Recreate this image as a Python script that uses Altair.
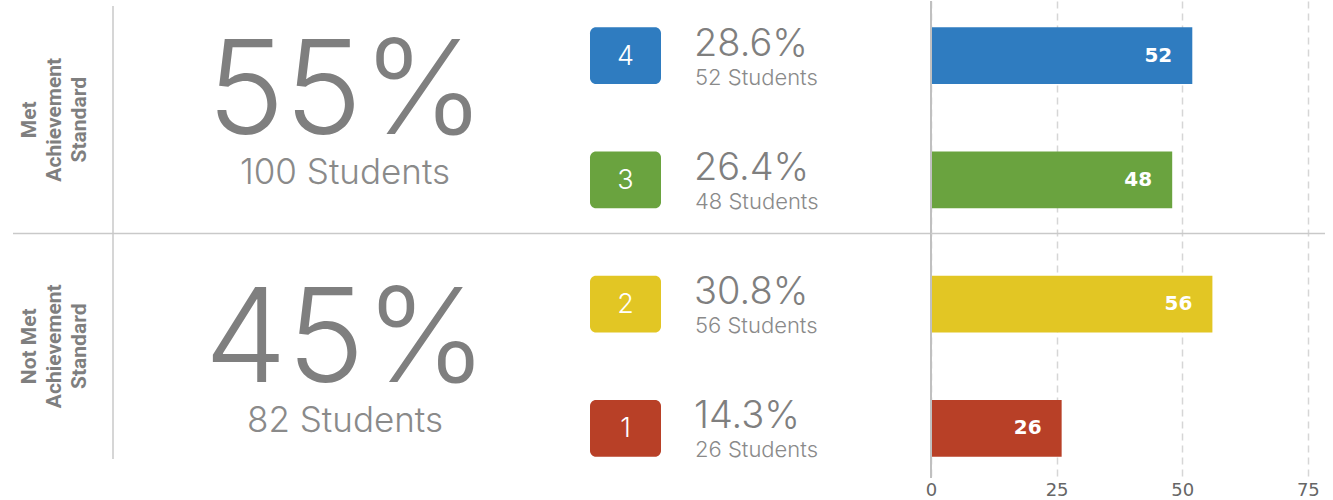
import altair as alt
import pandas as pd

# ---- data ----
levels = [4, 3, 2, 1]
counts = [52, 48, 56, 26]
pct_labels = ["28.6%", "26.4%", "30.8%", "14.3%"]
level_colors = ["#2f7cc0", "#6aa33f", "#e2c624", "#b84027"]

group_names = ["Met\nAchievement\nStandard", "Not Met\nAchievement\nStandard"]
group_pcts = ["55%", "45%"]
group_counts = [100, 82]
group_levels = [[4, 3], [2, 1]]

x_ticks = [0, 25, 50, 75]

# ---- layout (pixels / scale settings) ----
H = 477
Y_DOMAIN = [0.6, 4.44]
W_A, W_B, W_C, W_D = 113, 464, 354, 402
LINE_TOP, DIVIDER, LINE_BOTTOM = 5, 232.5, 458
GRAY = "#7f7f7f"
LINE = "#c9c9c9"
BAR_HALF = 0.228
FONT = "Inter"

yscale = alt.Scale(domain=Y_DOMAIN)

levels_df = pd.DataFrame({
    "level": levels,
    "count": counts,
    "pct": pct_labels,
    "students": [f"{c} Students" for c in counts],
})

groups_df = pd.DataFrame({
    "name": group_names,
    "pct": group_pcts,
    "students": [f"{c} Students" for c in group_counts],
    "row": [sum(g) / len(g) for g in group_levels],
    "label_px": [(LINE_TOP + DIVIDER) / 2, (DIVIDER + LINE_BOTTOM) / 2],
})

color_scale = alt.Scale(domain=levels, range=level_colors)


def hdivider(x0, x1):
    return alt.Chart(pd.DataFrame({"d": [0]})).mark_rule(color=LINE, strokeWidth=1.5).encode(
        x=alt.value(x0), x2=alt.value(x1), y=alt.value(DIVIDER)
    )


# Panel A: rotated group labels
base_g = alt.Chart(groups_df)
panel_a = alt.layer(
    base_g.mark_text(
        angle=270, align="center", baseline="middle", lineBreak="\n", lineHeight=25,
        font="Roboto", fontWeight="bold", fontSize=21, color=GRAY,
    ).encode(x=alt.value(30), y=alt.Y("label_px:Q", scale=None), text="name:N"),
    hdivider(13, W_A),
).properties(width=W_A, height=H)

# Panel B: big group percentages
panel_b = alt.layer(
    base_g.mark_text(
        align="center", baseline="alphabetic", dy=16,
        font=FONT, fontWeight=300, fontSize=131, color=GRAY,
    ).encode(x=alt.value(233), y=alt.Y("row:Q", scale=yscale, axis=None), text="pct:N"),
    base_g.mark_text(
        align="center", baseline="alphabetic", dy=66,
        font=FONT, fontWeight=300, fontSize=35, color="#8a8a8a",
    ).encode(x=alt.value(232), y=alt.Y("row:Q", scale=yscale, axis=None), text="students:N"),
    hdivider(0, W_B),
    alt.Chart(pd.DataFrame({"d": [0]})).mark_rule(color=LINE, strokeWidth=1.5).encode(
        x=alt.value(0), y=alt.value(LINE_TOP), y2=alt.value(LINE_BOTTOM)
    ),
).properties(width=W_B, height=H)

# Panel C: level boxes and percentages
base_l = alt.Chart(levels_df).transform_calculate(
    lo=f"datum.level - {BAR_HALF}", hi=f"datum.level + {BAR_HALF}"
)
panel_c = alt.layer(
    base_l.mark_bar(cornerRadius=6).encode(
        x=alt.value(13), x2=alt.value(84),
        y=alt.Y("lo:Q", scale=yscale, axis=None), y2="hi:Q",
        color=alt.Color("level:N", scale=color_scale, legend=None),
    ),
    base_l.mark_text(
        align="center", baseline="middle", dy=1,
        font=FONT, fontWeight=300, fontSize=27, color="white",
    ).encode(x=alt.value(48.5), y=alt.Y("level:Q", scale=yscale, axis=None), text="level:N"),
    base_l.mark_text(
        align="left", baseline="alphabetic", dy=0,
        font=FONT, fontWeight=300, fontSize=38, color=GRAY,
    ).encode(x=alt.value(117), y=alt.Y("level:Q", scale=yscale, axis=None), text="pct:N"),
    base_l.mark_text(
        align="left", baseline="alphabetic", dy=29,
        font=FONT, fontWeight=300, fontSize=22, color="#8a8a8a",
    ).encode(x=alt.value(118), y=alt.Y("level:Q", scale=yscale, axis=None), text="students:N"),
    hdivider(0, W_C),
).properties(width=W_C, height=H)

# Panel D: bars
xscale = alt.Scale(domain=[0, 80], nice=False)
xaxis = alt.Axis(
    values=x_ticks, title=None, grid=True, gridDash=[7, 5], gridColor="#d6d6d6", gridWidth=1.5,
    domain=False, ticks=False, labelFont="DejaVu Sans", labelFontSize=18, labelColor="#666666",
    labelPadding=3, labelFlush=False,
)
panel_d = alt.layer(
    base_l.mark_bar().encode(
        x=alt.X("count:Q", scale=xscale, axis=xaxis),
        x2=alt.datum(0),
        y=alt.Y("lo:Q", scale=yscale, axis=None), y2="hi:Q",
        color=alt.Color("level:N", scale=color_scale, legend=None),
    ),
    alt.Chart(pd.DataFrame({"d": [0]})).mark_rule(color="#c0c0c0", strokeWidth=2).encode(
        x=alt.datum(0, scale=xscale)
    ),
    base_l.mark_text(
        align="right", baseline="middle", dx=-20,
        font="DejaVu Sans", fontWeight="bold", fontSize=20, color="white",
    ).encode(
        x=alt.X("count:Q", scale=xscale), y=alt.Y("level:Q", scale=yscale, axis=None), text="count:Q"
    ),
    hdivider(0, 394),
).properties(width=W_D, height=H)

chart = alt.hconcat(panel_a, panel_b, panel_c, panel_d, spacing=0, bounds="flush").properties(
    padding=0, background="white"
).configure_view(stroke=None)

chart.save("out.html", embed_options={"renderer": "svg", "actions": False})
